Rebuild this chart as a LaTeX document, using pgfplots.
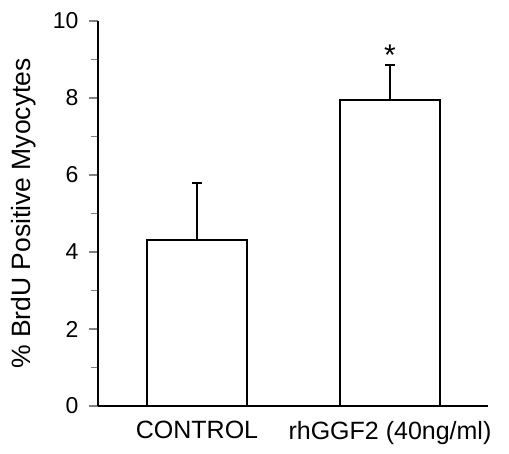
\documentclass[border=0pt]{standalone}
\usepackage{pgfplots}
\pgfplotsset{compat=1.18}
\usepackage{fontspec}
\setmainfont{Liberation Sans}
\usetikzlibrary{calc}

\begin{document}
\begin{tikzpicture}
\begin{axis}[
    name=ax,
    scale only axis,
    width=390pt, height=385pt,
    xmin=-0.513, xmax=1.508,
    ymin=0, ymax=10,
    axis x line*=bottom,
    axis y line*=left,
    axis line style={line width=1.8pt},
    xtick=data,
    xticklabels={CONTROL, rhGGF2 (40ng/ml)},
    x tick style={draw=none},
    ytick={0,2,...,10},
    minor ytick={1,3,...,9},
    tick align=outside,
    major tick length=9pt,
    minor tick length=7pt,
    y tick style={line width=1.4pt},
    yticklabel style={font=\fontsize{23}{26}\selectfont, xshift=-7pt},
    /pgf/number format/assume math mode=true,
    xticklabel style={font=\fontsize{25}{28}\selectfont, yshift=-3pt},
    ylabel={\% BrdU Positive Myocytes},
    ylabel style={font=\fontsize{26.5}{28}\selectfont, yshift=10pt},
    ybar,
    bar width=0.52,
]
\addplot[draw=black, fill=white, line width=2.4pt,
    error bars/.cd, y dir=plus, y explicit,
    error bar style={line width=2.2pt},
    error mark options={line width=2.2pt, mark size=5pt, rotate=90}]
    coordinates {
    (0, 4.31) +- (0, 1.48)
    (1, 7.95) +- (0, 0.90)
};
\node[font=\fontsize{30}{30}\selectfont] at (axis cs:1,9.1) {*};
\end{axis}
\path[use as bounding box] ($(ax.south west)+(-98pt,-47pt)$) rectangle ($(ax.north east)+(21pt,21pt)$);
\end{tikzpicture}
\end{document}
